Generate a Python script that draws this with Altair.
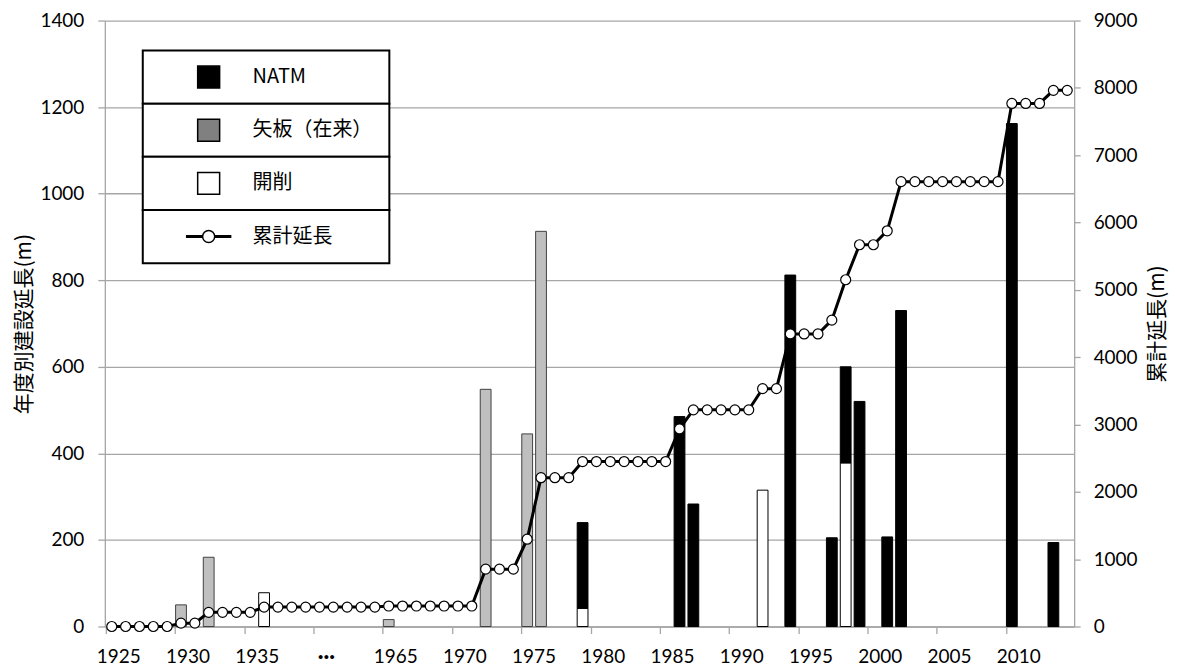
import altair as alt
import pandas as pd

# ---- categories (x axis) ----
CATEGORIES = ([str(y) for y in range(1925, 1940)] + ["···"]
              + [str(y) for y in range(1961, 1965)]
              + [str(y) for y in range(1965, 2015)])

# ---- yearly construction length (m) ----
NATM_YEARS = ["1979", "1986", "1987", "1994", "1997", "1998", "1999", "2001", "2002", "2010", "2013"]
NATM_VALUES = [198, 485, 283, 812, 205, 222, 520, 207, 730, 1162, 194]

YAITA_YEARS = ["1930", "1932", "1965", "1972", "1975", "1976"]
YAITA_VALUES = [50, 160, 16, 548, 445, 913]

KAISAKU_YEARS = ["1936", "1979", "1992", "1998"]
KAISAKU_VALUES = [78, 42, 315, 378]

# ---- cumulative length (m), one value per category ----
CUMULATIVE = [
    0, 0, 0, 0, 0,                 # 1925-1929
    50, 50,                        # 1930-1931
    210, 210, 210, 210,            # 1932-1935
    288, 288, 288, 288,            # 1936-1939
    288, 288, 288, 288, 288,       # ..., 1961-1964
    304, 304, 304, 304, 304, 304, 304,  # 1965-1971
    852, 852, 852,                 # 1972-1974
    1297,                          # 1975
    2210, 2210, 2210,              # 1976-1978
    2450, 2450, 2450, 2450, 2450, 2450, 2450,  # 1979-1985
    2935,                          # 1986
    3218, 3218, 3218, 3218, 3218,  # 1987-1991
    3533, 3533,                    # 1992-1993
    4345, 4345, 4345,              # 1994-1996
    4550,                          # 1997
    5150,                          # 1998
    5670, 5670,                    # 1999-2000
    5877,                          # 2001
    6607, 6607, 6607, 6607, 6607, 6607, 6607, 6607,  # 2002-2009
    7769, 7769, 7769,              # 2010-2012
    7963, 7963,                    # 2013-2014
]
assert len(CUMULATIVE) == len(CATEGORIES)

SERIES = ["NATM", "矢板（在来）", "開削", "累計延長"]
FILLS = ["#000000", "#BFBFBF", "#FFFFFF", "#000000"]
STROKES = ["#000000", "#404040", "#000000", "#000000"]
LEGEND_FILLS = ["#000000", "#808080", "#FFFFFF", "#FFFFFF"]

rows = []
for name, order, years, vals in [("開削", 0, KAISAKU_YEARS, KAISAKU_VALUES),
                                 ("矢板（在来）", 1, YAITA_YEARS, YAITA_VALUES),
                                 ("NATM", 2, NATM_YEARS, NATM_VALUES)]:
    for y, v in zip(years, vals):
        rows.append({"cat": y, "series": name, "value": v, "ord": order})
bars_df = pd.DataFrame(rows)
line_df = pd.DataFrame({"cat": CATEGORIES, "cum": CUMULATIVE})
legend_df = pd.DataFrame({"entry": SERIES})

W, H = 971, 607
STEP = W / len(CATEGORIES)
GRAY = "#A6A6A6"

x_enc = alt.X(
    "cat:N",
    sort=CATEGORIES,
    scale=alt.Scale(domain=CATEGORIES, paddingInner=0.22, paddingOuter=0.11),
    axis=alt.Axis(values=CATEGORIES[::5], bandPosition=0, labelOffset=STEP / 2,
                  title=None, labelAngle=0, tickSize=7, labelPadding=23, labelBaseline="middle",
                  labelFontWeight=alt.ConditionalAxisLabelFontWeight(
                      condition={"test": "datum.value === '···'", "value": "bold"}, value="normal"),
                  labelFontSize=alt.ConditionalAxisNumber(
                      condition={"test": "datum.value === '···'", "value": 21}, value=19),
                  domainColor=GRAY, tickColor=GRAY, domainWidth=1.3, tickWidth=1.3),
)

bars = alt.Chart(bars_df).mark_bar(strokeWidth=1).encode(
    x=x_enc,
    y=alt.Y("value:Q", stack="zero",
            scale=alt.Scale(domain=[0, 1400], nice=False),
            axis=alt.Axis(values=list(range(0, 1401, 200)), format="d", title="年度別建設延長(m)",
                          grid=True, gridColor=GRAY, gridWidth=1.3,
                          tickSize=7, labelPadding=14, titlePadding=5,
                          domainColor=GRAY, tickColor=GRAY,
                          domainWidth=1.3, tickWidth=1.3)),
    color=alt.Color("series:N", scale=alt.Scale(domain=SERIES, range=FILLS), legend=None),
    stroke=alt.Stroke("series:N", scale=alt.Scale(domain=SERIES, range=STROKES), legend=None),
    order=alt.Order("ord:Q"),
)

line = alt.Chart(line_df).mark_line(
    color="black", strokeWidth=3,
    point=alt.OverlayMarkDef(filled=True, fill="white", stroke="black", strokeWidth=1.2, size=100),
).encode(
    x=x_enc,
    y=alt.Y("cum:Q", scale=alt.Scale(domain=[0, 9000], nice=False),
            axis=alt.Axis(orient="right", values=list(range(0, 9001, 1000)), format="d",
                          title="累計延長(m)", titleAngle=270, titleBaseline="middle",
                          titleAlign="center", titleX=83, titleY=H / 2,
                          grid=False, tickSize=6, labelPadding=13,
                          domainColor=GRAY, tickColor=GRAY,
                          domainWidth=1.3, tickWidth=1.3)),
)

# ---- legend drawn as a table box in the upper-left of the plot ----
LINE_SYMBOL = ("M-2,-0.073L-0.55,-0.073L-0.55,0.073L-2,0.073Z "
               "M0.55,-0.073L2,-0.073L2,0.073L0.55,0.073Z "
               "M0.55,0A0.55,0.55,0,1,1,-0.55,0A0.55,0.55,0,1,1,0.55,0Z")
leg_y = alt.Y("entry:N", sort=SERIES,
              scale=alt.Scale(domain=SERIES, range=[30, 243], paddingInner=0, paddingOuter=0),
              axis=None)
leg_base = alt.Chart(legend_df)
leg_box = leg_base.mark_rect(fill="white", stroke="black", strokeWidth=2).encode(
    x=alt.value(38), x2=alt.value(285), y=leg_y)
leg_sym = leg_base.mark_point(filled=True, stroke="black", strokeWidth=1.5, size=484, opacity=1).encode(
    x=alt.value(104), y=leg_y,
    shape=alt.Shape("entry:N", scale=alt.Scale(domain=SERIES, range=["square", "square", "square", LINE_SYMBOL]),
                    legend=None),
    fill=alt.Fill("entry:N", scale=alt.Scale(domain=SERIES, range=LEGEND_FILLS), legend=None),
)
leg_txt = leg_base.mark_text(align="left", baseline="middle", font="Noto Sans CJK JP",
                             fontSize=20, color="black").encode(
    x=alt.value(148), y=leg_y, text="entry:N")
legend_layer = alt.layer(leg_box, leg_sym, leg_txt)

chart = alt.layer(bars, line, legend_layer).resolve_scale(y="independent").properties(
    width=W, height=H,
    padding={"left": 5, "top": 3, "right": 2, "bottom": 0},
    background="white",
).configure_view(stroke=None).configure_axis(
    labelFont="Lato", labelFontSize=19, labelColor="#000000",
    titleFont="Noto Sans CJK JP", titleFontSize=21, titleFontWeight="normal", titleColor="#000000",
)

chart.save("out.html", embed_options={"renderer": "svg", "actions": False})
